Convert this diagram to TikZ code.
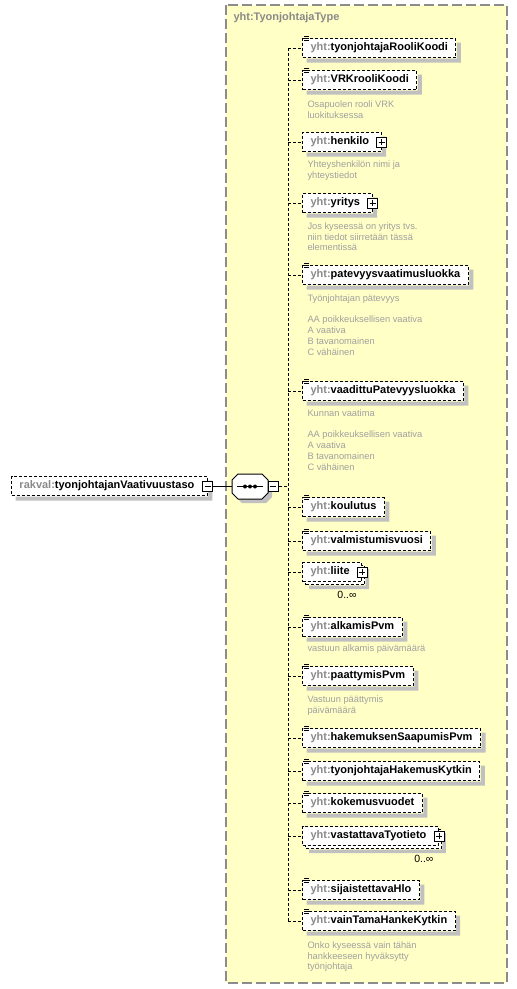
\documentclass[tikz,border=0pt]{standalone}
\usepackage{fontspec}
\setmainfont{Liberation Sans}
\usetikzlibrary{shadows}

\definecolor{typefill}{HTML}{FFFFC6}
\definecolor{typeline}{HTML}{8C8C8C}
\definecolor{nsgray}{HTML}{8A8A8A}
\definecolor{docgray}{HTML}{A0A0A0}
\definecolor{shadecol}{HTML}{C0C0C0}

\newcommand{\ns}[1]{\textcolor{nsgray}{#1:}}
\newcommand{\typeicon}[1]{%
  \draw[solid, line width=0.8pt]
    ([xshift=2pt,yshift=1.5pt]#1.north west) -- ++(5pt,0pt)
    ([xshift=2pt,yshift=-0.5pt]#1.north west) -- ++(5pt,0pt)
    ([xshift=2pt,yshift=-2.5pt]#1.north west) -- ++(5pt,0pt);}
% shadow strip right and below a box: #2 = covered offset, #3 = shadow offset
\newcommand{\dropshade}[3]{%
  \fill[shadecol] ([shift={(#3,-#2)}]#1.south west) -- ([shift={(#3,-#3)}]#1.south west)
    -- ([shift={(#3,-#3)}]#1.south east) -- ([shift={(#3,-#3)}]#1.north east)
    -- ([shift={(#2,-#3)}]#1.north east) -- ([shift={(#2,-#2)}]#1.south east) -- cycle;}

\begin{document}
\begin{tikzpicture}[x=1pt, y=-1pt, line width=1pt,
    elem/.style={draw, dash pattern=on 3pt off 2pt, fill=white, anchor=west,
      minimum height=19pt, inner xsep=8pt, inner ysep=0pt,
      font=\fontsize{11}{13}\selectfont\bfseries},
    multi/.style={elem, copy shadow={shadow xshift=3pt, shadow yshift=-3pt, fill=white, draw=black}},
    plus/.style={execute at end node=\hspace{4pt}},
    root/.style={elem, execute at end node=\hspace{5pt}},
    plusbox/.style={draw, solid, fill=white, minimum size=10pt, inner sep=0pt, line width=0.8pt,
      path picture={\draw[line width=0.8pt]
        ([yshift=-2pt]path picture bounding box.north) -- ([yshift=2pt]path picture bounding box.south)
        ([xshift=2pt]path picture bounding box.west) -- ([xshift=-2pt]path picture bounding box.east);}},
    minusbox/.style={draw, solid, fill=white, minimum size=10pt, inner sep=0pt, line width=0.8pt,
      path picture={\draw[line width=0.8pt]
        ([xshift=2pt]path picture bounding box.west) -- ([xshift=-2pt]path picture bounding box.east);}},
    seqbox/.style={rectangle, draw=none, inner sep=0pt, minimum width=35pt, minimum height=24pt},
    doc/.style={anchor=north west, align=left, inner sep=0pt, text=docgray,
      font=\fontsize{9.3}{10.8}\selectfont},
    mult/.style={anchor=north east, inner sep=0pt, font=\fontsize{10.5}{12}\selectfont},
    conn/.style={dash pattern=on 3pt off 2pt},
    typebox/.style={fill=typefill, draw=typeline, line width=1.5pt, dash pattern=on 10pt off 4pt}]

  \useasboundingbox (0,0) rectangle (517,989);

  % complex type
  \draw[typebox] (226,5) rectangle (507,983);
  \node[anchor=west, inner sep=0pt, text=nsgray, font=\fontsize{11}{13}\selectfont\bfseries]
    (title) at (233,18) {yht:TyonjohtajaType};

  % root element and sequence
  \node[root] (rakval) at (11,486) {\ns{rakval}tyonjohtajanVaativuustaso};
  \dropshade{rakval}{0.5pt}{4.5pt}
  \node[minusbox] (rakval-m) at (rakval.east) {};
  \node[seqbox] (seq) at (250,486.5) {};
  \fill[shadecol] ([shift={(10pt,-4pt)}]seq.north west) -- ([shift={(-2pt,-4pt)}]seq.north east)
    -- ([shift={(4pt,-10pt)}]seq.north east) -- ([shift={(4pt,2pt)}]seq.south east)
    -- ([shift={(-2pt,-4pt)}]seq.south east) -- ([shift={(10pt,-4pt)}]seq.south west)
    -- ([shift={(4pt,2pt)}]seq.south west) -- ([shift={(4pt,-10pt)}]seq.north west) -- cycle;
  \draw[fill=white] ([xshift=6pt]seq.north west) -- ([xshift=-6pt]seq.north east)
    -- ([yshift=-6pt]seq.north east) -- ([yshift=6pt]seq.south east)
    -- ([xshift=-6pt]seq.south east) -- ([xshift=6pt]seq.south west)
    -- ([yshift=6pt]seq.south west) -- ([yshift=-6pt]seq.north west) -- cycle;
  \node[minusbox, anchor=west] (seq-m) at (seq.east) {};
  \draw ([xshift=-13pt]seq.center) -- ([xshift=13pt]seq.center);
  \fill ([xshift=-5pt]seq.center) circle (2pt) (seq.center) circle (2pt)
        ([xshift=5pt]seq.center) circle (2pt);
  \coordinate (trunk) at (288,486.5);

  % child elements
  \node[elem] (rooli) at (302,48) {\ns{yht}tyonjohtajaRooliKoodi};
  \node[elem] (vrk) at (302,80) {\ns{yht}VRKrooliKoodi};
  \node[elem,plus] (henkilo) at (302,142) {\ns{yht}henkilo};
  \node[elem,plus] (yritys) at (302,203) {\ns{yht}yritys};
  \node[elem] (patevyys) at (302,275) {\ns{yht}patevyysvaatimusluokka};
  \node[elem] (vaadittu) at (302,391) {\ns{yht}vaadittuPatevyysluokka};
  \node[elem] (koulutus) at (302,507) {\ns{yht}koulutus};
  \node[elem] (valmistumis) at (302,541) {\ns{yht}valmistumisvuosi};
  \node[multi,plus] (liite) at (302,572) {\ns{yht}liite};
  \node[elem] (alkamis) at (302,627) {\ns{yht}alkamisPvm};
  \node[elem] (paattymis) at (302,676) {\ns{yht}paattymisPvm};
  \node[elem] (saapumis) at (302,738) {\ns{yht}hakemuksenSaapumisPvm};
  \node[elem] (hakemus) at (302,771) {\ns{yht}tyonjohtajaHakemusKytkin};
  \node[elem] (kokemus) at (302,803) {\ns{yht}kokemusvuodet};
  \node[multi,plus] (vastattava) at (302,836) {\ns{yht}vastattavaTyotieto};
  \node[elem] (sijaistettava) at (302,890) {\ns{yht}sijaistettavaHlo};
  \node[elem] (vaintama) at (302,921) {\ns{yht}vainTamaHankeKytkin};

  % shadows
  \dropshade{rooli}{0.5pt}{4.5pt} \dropshade{vrk}{0.5pt}{4.5pt}
  \dropshade{henkilo}{0.5pt}{4.5pt} \dropshade{yritys}{0.5pt}{4.5pt}
  \dropshade{patevyys}{0.5pt}{4.5pt} \dropshade{vaadittu}{0.5pt}{4.5pt}
  \dropshade{koulutus}{0.5pt}{4.5pt} \dropshade{valmistumis}{0.5pt}{4.5pt}
  \dropshade{liite}{3.5pt}{7pt} \dropshade{alkamis}{0.5pt}{4.5pt}
  \dropshade{paattymis}{0.5pt}{4.5pt} \dropshade{saapumis}{0.5pt}{4.5pt}
  \dropshade{hakemus}{0.5pt}{4.5pt} \dropshade{kokemus}{0.5pt}{4.5pt}
  \dropshade{vastattava}{3.5pt}{7pt} \dropshade{sijaistettava}{0.5pt}{4.5pt}
  \dropshade{vaintama}{0.5pt}{4.5pt}

  % icons
  \typeicon{rooli} \typeicon{vrk} \typeicon{patevyys} \typeicon{vaadittu}
  \typeicon{koulutus} \typeicon{valmistumis} \typeicon{alkamis} \typeicon{paattymis}
  \typeicon{saapumis} \typeicon{hakemus} \typeicon{kokemus} \typeicon{sijaistettava}
  \typeicon{vaintama}
  \node[plusbox] (henkilo-p) at (henkilo.east) {};
  \node[plusbox] (yritys-p) at (yritys.east) {};
  \node[plusbox] (liite-p) at (liite.east) {};
  \node[plusbox] (vastattava-p) at (vastattava.east) {};
  \node[mult] (liite-n) at ([shift={(-5pt,-9pt)}]liite.south east) {0..∞};
  \node[mult] (vastattava-n) at ([shift={(-5pt,-9pt)}]vastattava.south east) {0..∞};

  % documentation
  \node[doc] (vrk-doc) at (307,100) {Osapuolen rooli VRK\\luokituksessa};
  \node[doc] (henkilo-doc) at (307,160) {Yhteyshenkilön nimi ja\\yhteystiedot};
  \node[doc] (yritys-doc) at (307,222) {Jos kyseessä on yritys tvs.\\niin tiedot siirretään tässä\\elementissä};
  \node[doc] (patevyys-doc) at (307,294) {Työnjohtajan pätevyys\\[10.8pt]AA poikkeuksellisen vaativa\\A vaativa\\B tavanomainen\\C vähäinen};
  \node[doc] (vaadittu-doc) at (307,409) {Kunnan vaatima\\[10.8pt]AA poikkeuksellisen vaativa\\A vaativa\\B tavanomainen\\C vähäinen};
  \node[doc] (alkamis-doc) at (307,644) {vastuun alkamis päivämäärä};
  \node[doc] (paattymis-doc) at (307,695) {Vastuun päättymis\\päivämäärä};
  \node[doc] (vaintama-doc) at (307,941) {Onko kyseessä vain tähän\\hankkeeseen hyväksytty\\työnjohtaja};

  % connectors
  \draw (rakval-m.east) -- (rakval-m.east -| seq.west);
  \draw[conn] (seq-m.east) -- (trunk);
  \draw[conn] (rooli.west -| trunk) -- (vaintama.west -| trunk);
  \draw[conn] (rooli.west -| trunk) -- (rooli.west)
    (vrk.west -| trunk) -- (vrk.west)
    (henkilo.west -| trunk) -- (henkilo.west)
    (yritys.west -| trunk) -- (yritys.west)
    (patevyys.west -| trunk) -- (patevyys.west)
    (vaadittu.west -| trunk) -- (vaadittu.west)
    (koulutus.west -| trunk) -- (koulutus.west)
    (valmistumis.west -| trunk) -- (valmistumis.west)
    (liite.west -| trunk) -- (liite.west)
    (alkamis.west -| trunk) -- (alkamis.west)
    (paattymis.west -| trunk) -- (paattymis.west)
    (saapumis.west -| trunk) -- (saapumis.west)
    (hakemus.west -| trunk) -- (hakemus.west)
    (kokemus.west -| trunk) -- (kokemus.west)
    (vastattava.west -| trunk) -- (vastattava.west)
    (sijaistettava.west -| trunk) -- (sijaistettava.west)
    (vaintama.west -| trunk) -- (vaintama.west);
\end{tikzpicture}
\end{document}
